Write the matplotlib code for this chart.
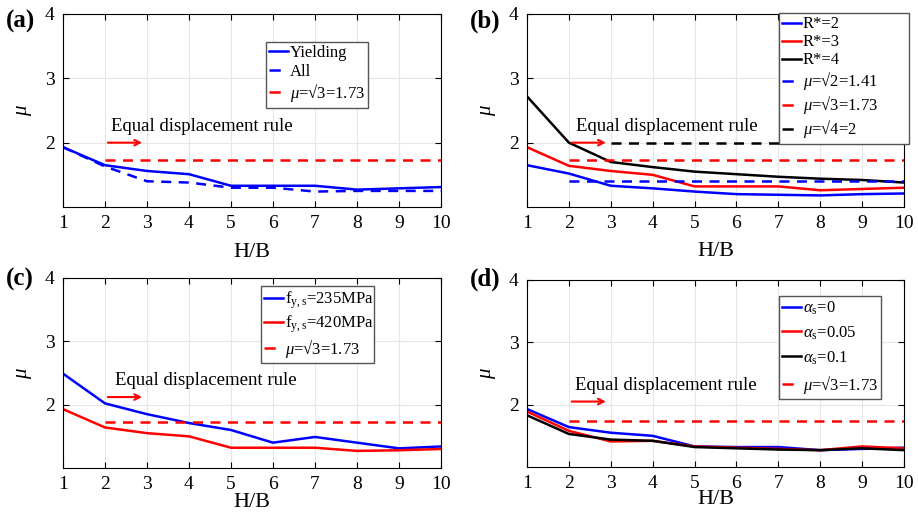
import numpy as np
import matplotlib
matplotlib.use("Agg")
import matplotlib.pyplot as plt

plt.rcParams['font.family'] = ['Liberation Serif', 'DejaVu Serif']
plt.rcParams['mathtext.fontset'] = 'custom'
plt.rcParams['mathtext.rm'] = 'Liberation Serif'
plt.rcParams['mathtext.it'] = 'Liberation Serif:italic'
plt.rcParams['mathtext.bf'] = 'Liberation Serif:bold'

hb = [1, 2, 3, 4, 5, 6, 7, 8, 9, 10]
hb_ref = [2, 10]
hb_ref_b4 = [3, 10]

# (a)
mu_yield = [1.93, 1.65, 1.56, 1.51, 1.33, 1.33, 1.33, 1.27, 1.29, 1.31]
mu_all = [1.93, 1.63, 1.40, 1.38, 1.30, 1.30, 1.24, 1.25, 1.25, 1.25]
# (b)
mu_r2 = [1.65, 1.52, 1.33, 1.29, 1.24, 1.20, 1.19, 1.18, 1.20, 1.21]
mu_r3 = [1.93, 1.64, 1.56, 1.50, 1.32, 1.32, 1.32, 1.26, 1.28, 1.30]
mu_r4 = [2.72, 2.00, 1.70, 1.62, 1.55, 1.51, 1.47, 1.44, 1.42, 1.38]
# (c)
mu_235 = [2.49, 2.02, 1.85, 1.71, 1.60, 1.40, 1.49, 1.40, 1.31, 1.34]
mu_420 = [1.93, 1.64, 1.55, 1.50, 1.32, 1.32, 1.32, 1.27, 1.28, 1.30]
# (d)
mu_a0 = [1.93, 1.64, 1.55, 1.50, 1.33, 1.32, 1.32, 1.27, 1.29, 1.31]
mu_a005 = [1.89, 1.58, 1.41, 1.42, 1.33, 1.31, 1.29, 1.27, 1.33, 1.30]
mu_a01 = [1.83, 1.53, 1.44, 1.42, 1.32, 1.30, 1.28, 1.27, 1.30, 1.27]

W, H = 918, 515
fig = plt.figure(figsize=(W / 100, H / 100), dpi=100)

def make_ax(l, t, r, b, xpad):
    ax = fig.add_axes([l / W, 1 - b / H, (r - l) / W, (b - t) / H])
    ax.set_xlim(1, 10)
    ax.set_ylim(1, 4)
    ax.set_xticks(hb)
    ax.set_yticks([2, 3, 4])
    ax.tick_params(direction='in', top=True, right=True, labelsize=14, length=4, width=0.8, pad=6)
    ax.grid(True, color='#e6e6e6', linewidth=0.8)
    ax.set_axisbelow(True)
    for s in ax.spines.values():
        s.set_linewidth(0.8)
    ax.set_xlabel('H/B', fontsize=16, labelpad=xpad)
    ax.set_ylabel(r'$\mu$', fontsize=15, labelpad=8)
    return ax

lw = 1.8
dash = (0, (4, 3))
ref_lbl3 = r'$\mu$=√3=1.73'

def rule(ax, x, y):
    ax.annotate('', xy=(2.95, y), xytext=(2.0, y),
                arrowprops=dict(arrowstyle='->', color='red', lw=1.5), zorder=5)
    ax.text(x, y + 0.12, 'Equal displacement rule', fontsize=13.5, va='bottom')

def legend(ax, x, y, w, spacing=0.15):
    leg = ax.legend(loc='upper left', bbox_to_anchor=(x, y, w, 0), mode='expand',
                    borderaxespad=0, fontsize=12, handlelength=1.1, handletextpad=0.15,
                    fancybox=False, framealpha=1, edgecolor='#555555',
                    labelspacing=spacing, borderpad=0.2)
    leg.get_frame().set_linewidth(1.0)
    for ln in leg.get_lines():
        if ln.get_linestyle() != '-':
            ln.set_linestyle((0, (4.5, 10)))

# (a)
ax = make_ax(63, 14, 441, 207, 8)
ax.plot(hb, mu_yield, color='blue', lw=lw, label='Yielding')
ax.plot(hb, mu_all, color='blue', lw=lw, ls=dash, label='All')
ax.plot(hb_ref, [1.73, 1.73], color='red', lw=lw, ls=dash, label=ref_lbl3)
rule(ax, 2.15, 2.0)
legend(ax, 0.537, 0.855, 0.27)
fig.text(6 / W, 1 - 21 / H, '(a)', fontsize=18, fontweight='bold', va='center')

# (b)
ax = make_ax(527, 14, 904, 207, 7)
ax.plot(hb, mu_r2, color='blue', lw=lw, label='R*=2')
ax.plot(hb, mu_r3, color='red', lw=lw, label='R*=3')
ax.plot(hb, mu_r4, color='black', lw=lw, label='R*=4')
ax.plot(hb_ref, [1.41, 1.41], color='blue', lw=lw, ls=dash, label=r'$\mu$=√2=1.41')
ax.plot(hb_ref, [1.73, 1.73], color='red', lw=lw, ls=dash, label=ref_lbl3)
ax.plot(hb_ref_b4, [2.0, 2.0], color='black', lw=lw, ls=dash, label=r'$\mu$=√4=2')
rule(ax, 2.18, 2.0)
legend(ax, 0.668, 1.005, 0.345, spacing=0.12)
fig.text(470 / W, 1 - 21 / H, '(b)', fontsize=18, fontweight='bold', va='center')

# (c)
ax = make_ax(63, 278, 441, 468, 0)
ax.plot(hb, mu_235, color='blue', lw=lw, label=r'f$_{\rm y,s}$=235MPa')
ax.plot(hb, mu_420, color='red', lw=lw, label=r'f$_{\rm y,s}$=420MPa')
ax.plot(hb_ref, [1.73, 1.73], color='red', lw=lw, ls=dash, label=ref_lbl3)
rule(ax, 2.23, 2.12)
legend(ax, 0.524, 0.958, 0.30)
fig.text(6 / W, 1 - 279 / H, '(c)', fontsize=18, fontweight='bold', va='center')

# (d)
ax = make_ax(527, 280, 904, 467, -2)
ax.plot(hb, mu_a0, color='blue', lw=lw, label=r'$\alpha_{\rm s}$=0')
ax.plot(hb, mu_a005, color='red', lw=lw, label=r'$\alpha_{\rm s}$=0.05')
ax.plot(hb, mu_a01, color='black', lw=lw, label=r'$\alpha_{\rm s}$=0.1')
ax.plot(hb_ref, [1.73, 1.73], color='red', lw=lw, ls=dash, label=ref_lbl3)
rule(ax, 2.14, 2.05)
legend(ax, 0.668, 0.914, 0.27, spacing=0.45)
fig.text(470 / W, 1 - 279 / H, '(d)', fontsize=18, fontweight='bold', va='center')

fig.savefig('out.png', dpi=100)
